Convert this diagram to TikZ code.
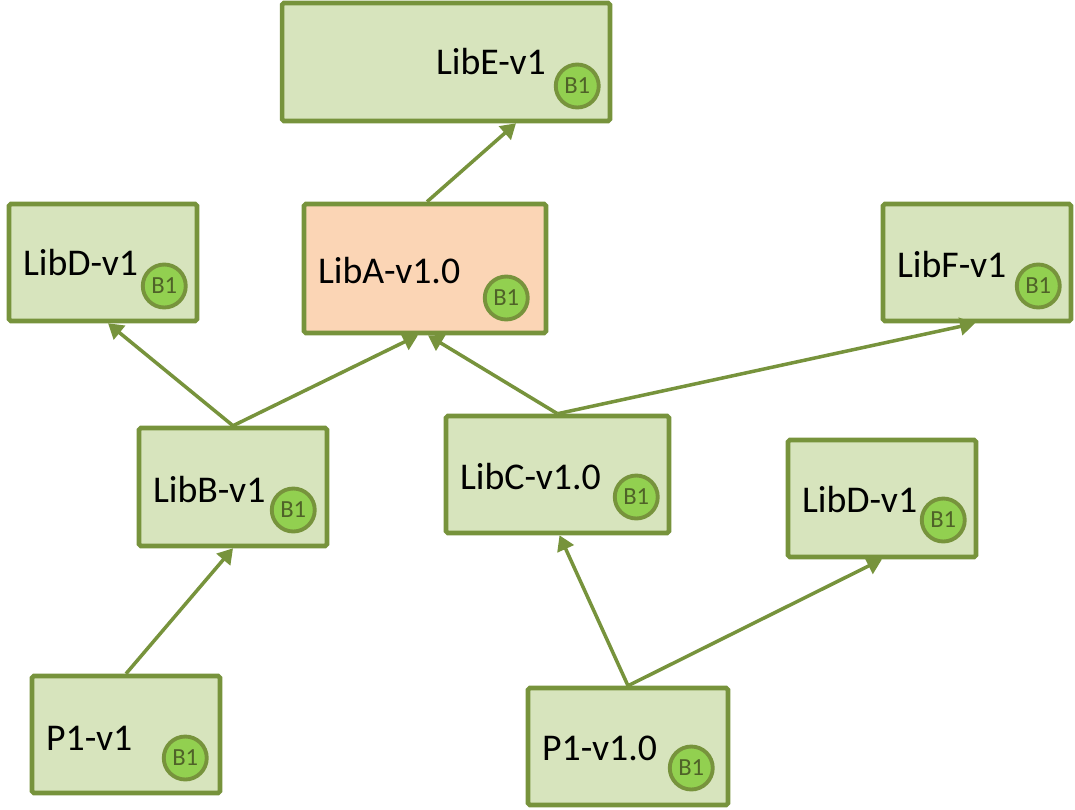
\documentclass[tikz,border=0pt]{standalone}
\usepackage{fontspec}
\setmainfont{Carlito}
\usepackage{tikz}
\usetikzlibrary{calc,arrows.meta}
\definecolor{olive}{HTML}{77933C}
\definecolor{libfill}{HTML}{D7E4BD}
\definecolor{rootfill}{HTML}{FBD5B5}
\definecolor{badgefill}{HTML}{92D050}
\definecolor{badgetext}{HTML}{4F6228}

\begin{document}
\begin{tikzpicture}[x=0.02cm,y=-0.02cm,
  lib/.style={draw=olive,fill=libfill,line width=2.6pt,rounded corners=1pt,inner sep=0pt},
  root/.style={lib,fill=rootfill},
  libname/.style={anchor=west,inner sep=0pt,font=\fontsize{21.5}{26}\selectfont},
  badge/.style={circle,draw=olive,fill=badgefill,line width=2.2pt,minimum size=0.86cm,inner sep=0pt,
    text=badgetext,font=\fontsize{14}{16}\selectfont},
  dep/.style={draw=olive,line width=2pt,-{Triangle[length=8.5pt,width=10pt]}}]
\useasboundingbox (0,0) rectangle (1075,809);
% boxes
\node[lib,minimum width=6.56cm,minimum height=2.36cm] (libE) at (446,62) {};
\node[lib,minimum width=3.76cm,minimum height=2.34cm] (libDa) at (103,262.5) {};
\node[root,minimum width=4.84cm,minimum height=2.58cm] (libA) at (425,268.5) {};
\node[lib,minimum width=3.76cm,minimum height=2.34cm] (libF) at (977,262.5) {};
\node[lib,minimum width=3.76cm,minimum height=2.36cm] (libB) at (233,487) {};
\node[lib,minimum width=4.46cm,minimum height=2.34cm] (libC) at (557.5,474.5) {};
\node[lib,minimum width=3.76cm,minimum height=2.34cm] (libDb) at (882,498.5) {};
\node[lib,minimum width=3.76cm,minimum height=2.34cm] (pOne) at (126,734.5) {};
\node[lib,minimum width=4.00cm,minimum height=2.34cm] (pOneZero) at (628,746.5) {};
% names
\node[libname] (libEn) at ($(libE.west)+(156,0)$) {LibE-v1};
\node[libname] (libDan) at ($(libDa.west)+(16,0)$) {LibD-v1};
\node[libname] (libAn) at ($(libA.west)+(16,2)$) {LibA-v1.0};
\node[libname] (libFn) at ($(libF.west)+(16,2)$) {LibF-v1};
\node[libname] (libBn) at ($(libB.west)+(16,3)$) {LibB-v1};
\node[libname] (libCn) at ($(libC.west)+(16,2)$) {LibC-v1.0};
\node[libname] (libDbn) at ($(libDb.west)+(16,1)$) {LibD-v1};
\node[libname] (pOnen) at ($(pOne.west)+(16,4)$) {P1-v1};
\node[libname] (pOneZeron) at ($(pOneZero.west)+(16,2)$) {P1-v1.0};
% build badges
\node[badge] (libEb) at ($(libE.east)+(-35,24)$) {B1};
\node[badge] (libDab) at ($(libDa.east)+(-35,23.5)$) {B1};
\node[badge] (libAb) at ($(libA.east)+(-42,29.5)$) {B1};
\node[badge] (libFb) at ($(libF.east)+(-35,23.5)$) {B1};
\node[badge] (libBb) at ($(libB.east)+(-36,23)$) {B1};
\node[badge] (libCb) at ($(libC.east)+(-35,22.5)$) {B1};
\node[badge] (libDbb) at ($(libDb.east)+(-35,21.5)$) {B1};
\node[badge] (pOneb) at ($(pOne.east)+(-37,23.5)$) {B1};
\node[badge] (pOneZerob) at ($(pOneZero.east)+(-39,21.5)$) {B1};
% dependencies
\draw[dep] ($(libA.north)+(2,0)$) -- ($(libE.south)+(70,0)$);
\draw[dep] (libB.north) -- ($(libDa.south)+(5,0)$);
\draw[dep] (libB.north) -- ($(libA.south)+(-7,0)$);
\draw[dep] (libC.north) -- ($(libA.south)+(3,0)$);
\draw[dep] (libC.north) -- ($(libF.south)+(-2,0)$);
\draw[dep] (pOne.north) -- (libB.south);
\draw[dep] (pOneZero.north) -- ($(libC.south)+(2,0)$);
\draw[dep] (pOneZero.north) -- (libDb.south);
\end{tikzpicture}
\end{document}
